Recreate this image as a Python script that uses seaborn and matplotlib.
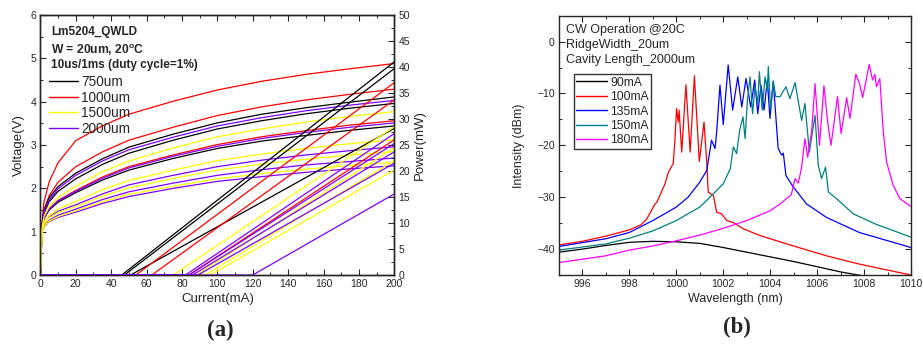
import numpy as np
import pandas as pd
import matplotlib
matplotlib.use("Agg")
import matplotlib.pyplot as plt
import seaborn as sns
from matplotlib.lines import Line2D
from matplotlib.ticker import MultipleLocator

# ---------------- Panel (a) data: L-I-V ----------------
current_pts = [0, 1, 2, 5, 10, 20, 35, 50, 75, 100, 125, 150, 175, 200]

# voltage curves (V) read at current_pts
v_1000_a = [0, 1.20, 1.68, 2.15, 2.59, 3.10, 3.44, 3.71, 4.01, 4.27, 4.47, 4.63, 4.76, 4.88]
v_1000_b = [0, 1.15, 1.49, 1.83, 2.14, 2.50, 2.84, 3.11, 3.41, 3.68, 3.88, 4.04, 4.17, 4.29]
v_750_a = [0, 1.20, 1.49, 1.78, 2.04, 2.35, 2.68, 2.95, 3.25, 3.51, 3.71, 3.86, 3.99, 4.11]
v_2000_a = [0, 1.15, 1.44, 1.73, 1.99, 2.30, 2.63, 2.89, 3.18, 3.44, 3.63, 3.79, 3.92, 4.03]
v_750_b = [0, 1.15, 1.42, 1.69, 1.93, 2.22, 2.55, 2.81, 3.11, 3.37, 3.56, 3.72, 3.85, 3.96]
v_1500_a = [0, 1.10, 1.34, 1.58, 1.79, 2.05, 2.38, 2.63, 2.93, 3.19, 3.37, 3.53, 3.66, 3.77]
v_1000_c = [0, 1.10, 1.31, 1.53, 1.72, 1.95, 2.26, 2.50, 2.77, 3.01, 3.19, 3.33, 3.46, 3.56]
v_2000_b = [0, 1.10, 1.31, 1.52, 1.71, 1.93, 2.23, 2.47, 2.74, 2.97, 3.15, 3.29, 3.41, 3.51]
v_750_c = [0, 1.10, 1.30, 1.50, 1.68, 1.90, 2.19, 2.42, 2.69, 2.92, 3.09, 3.22, 3.34, 3.44]
v_1500_b = [0, 1.05, 1.21, 1.38, 1.52, 1.70, 1.97, 2.18, 2.42, 2.64, 2.79, 2.92, 3.03, 3.12]
v_2000_c = [0, 1.05, 1.19, 1.34, 1.47, 1.62, 1.87, 2.08, 2.30, 2.50, 2.65, 2.77, 2.87, 2.96]
v_1500_c = [0, 1.05, 1.18, 1.32, 1.44, 1.58, 1.82, 2.01, 2.23, 2.42, 2.56, 2.67, 2.77, 2.85]
v_2000_d = [0, 1.00, 1.13, 1.26, 1.38, 1.52, 1.74, 1.92, 2.12, 2.30, 2.43, 2.54, 2.62, 2.70]
v_1500_d = [0, 1.00, 1.12, 1.24, 1.35, 1.48, 1.69, 1.86, 2.05, 2.22, 2.34, 2.44, 2.53, 2.60]
v_2000_e = [0, 1.00, 1.11, 1.23, 1.33, 1.45, 1.65, 1.81, 2.00, 2.16, 2.27, 2.37, 2.45, 2.52]

# optical power: threshold current (mA) and power at 200 mA (mW)
p_th_750 = [46, 47.5, 51]
p_end_750 = [41.0, 39.7, 28.2]
p_th_1000 = [54, 63, 84]
p_end_1000 = [37.0, 33.7, 26.0]
p_th_1500 = [75, 88, 93, 96]
p_end_1500 = [28.5, 24.5, 22.0, 20.2]
p_th_2000 = [82, 84, 86, 89, 120]
p_end_2000 = [27.2, 25.3, 23.7, 21.5, 15.6]

lengths = ["750um", "1000um", "1500um", "2000um"]
length_colors = ["#000000", "#ff0000", "#ffff00", "#8000ff"]

# ---------------- Panel (b) data: spectra ----------------
wl_90 = [995, 996, 997, 998, 999, 1000, 1001, 1002, 1003, 1004, 1005, 1006, 1007, 1008.5]
db_90 = [-40.6, -40.0, -39.3, -38.7, -38.5, -38.6, -38.9, -39.7, -40.6, -41.5, -42.4, -43.4, -44.4, -45.6]

wl_100 = [995, 996, 997, 998, 998.5, 998.74, 999.09, 999.17, 999.52, 999.66, 999.87, 999.94, 1000.01,
          1000.08, 1000.12, 1000.23, 1000.41, 1000.59, 1000.77, 1000.98, 1001.18, 1001.3, 1001.36,
          1001.58, 1001.72, 1001.93, 1002.15, 1002.43, 1002.86, 1003.57, 1004.99, 1006.4, 1007.8, 1010]
db_100 = [-39.2, -38.5, -37.5, -36.3, -35.3, -34.2, -31.3, -31.0, -27.4, -25.2, -23.5, -19.0, -12.9,
          -15.5, -13.2, -21.3, -8.3, -21.3, -6.6, -23.1, -15.5, -23.5, -29.0,
          -29.7, -32.9, -33.2, -34.5, -34.9, -36.1, -37.4, -39.4, -41.3, -42.9, -45.0]

wl_135 = [995, 997, 998, 999, 1000, 1000.5, 1001, 1001.3, 1001.5, 1001.65, 1001.72, 1001.86, 1002.0,
          1002.21, 1002.4, 1002.62, 1002.79, 1002.97, 1003.17, 1003.34, 1003.47, 1003.61, 1003.74,
          1003.88, 1003.99, 1004.13, 1004.34, 1004.49, 1004.56, 1004.67, 1004.98, 1005.55, 1006.4, 1007.8, 1010]
db_135 = [-39.5, -38.0, -36.8, -34.5, -31.9, -30.0, -27.1, -24.8, -19.0, -20.6, -17.4, -8.4, -16.0,
          -4.5, -13.2, -6.8, -12.6, -7.1, -12.6, -7.4, -13.9, -8.4, -13.2,
          -7.4, -14.8, -7.6, -20.6, -21.9, -21.5, -25.8, -28.0, -31.3, -33.9, -36.8, -39.7]

wl_150 = [995, 997, 998, 999, 1000, 1001, 1001.5, 1002, 1002.3, 1002.43, 1002.57, 1002.7, 1002.84,
          1002.93, 1003.03, 1003.14, 1003.25, 1003.35, 1003.47, 1003.54, 1003.66, 1003.78, 1003.88,
          1003.92, 1004.02, 1004.13, 1004.24, 1004.42, 1004.67, 1004.84, 1005.06, 1005.34, 1005.48,
          1005.67, 1005.91, 1006.05, 1006.19, 1006.36, 1006.48, 1006.83, 1007.54, 1008.5, 1010]
db_150 = [-40.2, -39.0, -37.9, -36.5, -34.5, -31.9, -29.7, -27.4, -24.5, -20.3, -21.6, -17.1, -14.5,
          -18.7, -11.3, -6.8, -13.9, -8.7, -11.9, -5.8, -13.2, -6.8, -9.4,
          -4.8, -13.2, -7.7, -10.6, -10.6, -8.7, -11.0, -7.9, -15.2, -11.9,
          -21.3, -14.2, -23.9, -26.4, -24.2, -29.0, -30.3, -33.2, -35.2, -37.7]

wl_180 = [995, 997, 998, 999, 1000, 1001, 1002, 1003, 1004, 1004.42, 1004.9, 1005.06, 1005.2, 1005.34,
          1005.48, 1005.6, 1005.77, 1005.91, 1006.1, 1006.29, 1006.45, 1006.59, 1006.87, 1007.02,
          1007.26, 1007.4, 1007.65, 1007.8, 1007.94, 1008.22, 1008.36, 1008.46, 1008.53, 1008.67,
          1008.82, 1008.96, 1009.24, 1009.53, 1010]
db_180 = [-42.6, -41.3, -40.2, -39.4, -38.4, -37.3, -36.0, -34.5, -32.6, -31.3, -29.5, -26.4, -27.3, -24.2,
          -18.7, -22.3, -17.1, -8.1, -20.0, -8.5, -15.5, -20.0, -10.6, -17.7,
          -10.8, -14.8, -6.3, -8.0, -10.8, -4.4, -7.4, -6.3, -8.7, -7.1,
          -17.4, -23.2, -27.7, -30.3, -31.8]

spec_labels = ["90mA", "100mA", "135mA", "150mA", "180mA"]
spec_colors = ["#000000", "#ff0000", "#0000ff", "#008080", "#ff00ff"]

# ---------------- Build tables ----------------
v_curves = [("1000um", v_1000_a), ("1000um", v_1000_b), ("750um", v_750_a), ("2000um", v_2000_a),
            ("750um", v_750_b), ("1500um", v_1500_a), ("1000um", v_1000_c), ("2000um", v_2000_b),
            ("750um", v_750_c), ("1500um", v_1500_b), ("2000um", v_2000_c), ("1500um", v_1500_c),
            ("2000um", v_2000_d), ("1500um", v_1500_d), ("2000um", v_2000_e)]
rows = []
for k, (ln, vals) in enumerate(v_curves):
    for i, v in zip(current_pts, vals):
        rows.append({"I": i, "V": v, "length": ln, "curve": k})
df_v = pd.DataFrame(rows)

rows = []
k = 0
for ln, ths, ends in [("750um", p_th_750, p_end_750), ("1000um", p_th_1000, p_end_1000),
                      ("1500um", p_th_1500, p_end_1500), ("2000um", p_th_2000, p_end_2000)]:
    for th, pe in zip(ths, ends):
        rows += [{"I": 0, "P": 0, "length": ln, "curve": k},
                 {"I": th, "P": 0, "length": ln, "curve": k},
                 {"I": current_pts[-1], "P": pe, "length": ln, "curve": k}]
        k += 1
df_p = pd.DataFrame(rows)

rows = []
for lab, wl, db in zip(spec_labels, [wl_90, wl_100, wl_135, wl_150, wl_180],
                       [db_90, db_100, db_135, db_150, db_180]):
    for w, d in zip(wl, db):
        rows.append({"wl": w, "db": d, "current": lab})
df_s = pd.DataFrame(rows)

# ---------------- Style ----------------
sns.set_style("ticks")
plt.rcParams["font.family"] = ["Liberation Sans", "DejaVu Sans"]
plt.rcParams["mathtext.fontset"] = "custom"
plt.rcParams["mathtext.bf"] = "Liberation Sans:bold"
plt.rcParams["mathtext.rm"] = "Liberation Sans"
plt.rcParams["axes.linewidth"] = 1.0

fig = plt.figure(figsize=(9.23, 3.49), dpi=100)
ax1 = fig.add_axes([0.0437, 0.212, 0.3835, 0.745])
ax1r = ax1.twinx()
ax2 = fig.add_axes([0.6056, 0.212, 0.3814, 0.743])

pal_len = dict(zip(lengths, length_colors))
sns.lineplot(data=df_v, x="I", y="V", hue="length", units="curve", estimator=None,
             palette=pal_len, legend=False, lw=0.9, sort=False, ax=ax1)
sns.lineplot(data=df_p, x="I", y="P", hue="length", units="curve", estimator=None,
             palette=pal_len, legend=False, lw=0.9, sort=False, ax=ax1r)

ax1.set_xlim(0, 200)
ax1.set_ylim(0, 6)
ax1r.set_ylim(0, 50)
ax1.xaxis.set_major_locator(MultipleLocator(20))
ax1.xaxis.set_minor_locator(MultipleLocator(10))
ax1.yaxis.set_major_locator(MultipleLocator(1))
ax1.yaxis.set_minor_locator(MultipleLocator(0.5))
ax1r.yaxis.set_major_locator(MultipleLocator(5))
ax1r.yaxis.set_minor_locator(MultipleLocator(2.5))
ax1.tick_params(axis="both", which="both", direction="in", top=True, labelsize=7.5, pad=3)
ax1.tick_params(which="major", length=4, width=0.8)
ax1.tick_params(which="minor", length=2, width=0.7)
ax1r.tick_params(axis="y", which="both", direction="in", labelsize=7.5, pad=3)
ax1r.tick_params(which="major", length=4, width=0.8)
ax1r.tick_params(which="minor", length=2, width=0.7)
ax1.set_xlabel("Current(mA)", fontsize=9.5, labelpad=3)
ax1.set_ylabel("Voltage(V)", fontsize=9.5, labelpad=4)
ax1r.set_ylabel("Power(mW)", fontsize=9.5, labelpad=3)
for sp in ax1r.spines.values():
    sp.set_linewidth(1.0)

ax1.text(0.03, 0.935, "Lm5204_QWLD", transform=ax1.transAxes, fontsize=8.5,
         fontweight="bold", va="center", ha="left")
ax1.text(0.03, 0.866, r"W = 20um, 20$^{\mathbf{o}}$C", transform=ax1.transAxes, fontsize=8.7,
         fontweight="bold", va="center", ha="left")
ax1.text(0.03, 0.808, "10us/1ms (duty cycle=1%)", transform=ax1.transAxes, fontsize=8.5,
         fontweight="bold", va="center", ha="left")
h1 = [Line2D([], [], color=c, lw=1.0) for c in length_colors]
leg1 = ax1.legend(h1, lengths, loc="upper left", bbox_to_anchor=(0.018, 0.780), frameon=False,
                  fontsize=9.8, handlelength=2.1, handletextpad=0.25, labelspacing=0.12,
                  borderaxespad=0, borderpad=0.2)

pal_sp = dict(zip(spec_labels, spec_colors))
sns.lineplot(data=df_s, x="wl", y="db", hue="current", estimator=None, palette=pal_sp,
             legend=False, lw=0.9, sort=False, ax=ax2)
ax2.set_xlim(995, 1010)
ax2.set_ylim(-45, 5)
ax2.xaxis.set_major_locator(MultipleLocator(2))
ax2.xaxis.set_minor_locator(MultipleLocator(1))
ax2.yaxis.set_major_locator(MultipleLocator(10))
ax2.yaxis.set_minor_locator(MultipleLocator(5))
ax2.tick_params(axis="both", which="both", direction="in", top=True, right=True,
                labelsize=7.5, pad=3)
ax2.tick_params(which="major", length=4, width=0.8)
ax2.tick_params(which="minor", length=2, width=0.7)
ax2.set_xticks([996, 998, 1000, 1002, 1004, 1006, 1008, 1010])
ax2.set_xlabel("Wavelength (nm)", fontsize=9, labelpad=3)
ax2.set_ylabel("Intensity (dBm)", fontsize=9, labelpad=9)

ax2.text(0.02, 0.945, "CW Operation @20C", transform=ax2.transAxes, fontsize=9,
         va="center", ha="left")
ax2.text(0.02, 0.887, "RidgeWidth_20um", transform=ax2.transAxes, fontsize=9,
         va="center", ha="left")
ax2.text(0.02, 0.829, "Cavity Length_2000um", transform=ax2.transAxes, fontsize=9,
         va="center", ha="left")
h2 = [Line2D([], [], color=c, lw=1.0) for c in spec_colors]
leg2 = ax2.legend(h2, spec_labels, loc="upper left", bbox_to_anchor=(0.0426, 0.774),
                  frameon=True, fancybox=False, edgecolor="black", fontsize=8.7,
                  handlelength=2.5, handletextpad=0.3, labelspacing=0.2,
                  borderaxespad=0, borderpad=0.2)
leg2.get_frame().set_linewidth(1.0)

fig.text(220 / 923, 1 - 330 / 349, "(a)", fontsize=16.5, fontweight="bold",
         family=["Liberation Serif"], ha="center", va="center")
fig.text(737 / 923, 1 - 327 / 349, "(b)", fontsize=16.5, fontweight="bold",
         family=["Liberation Serif"], ha="center", va="center")

fig.savefig("out.png", dpi=100)
